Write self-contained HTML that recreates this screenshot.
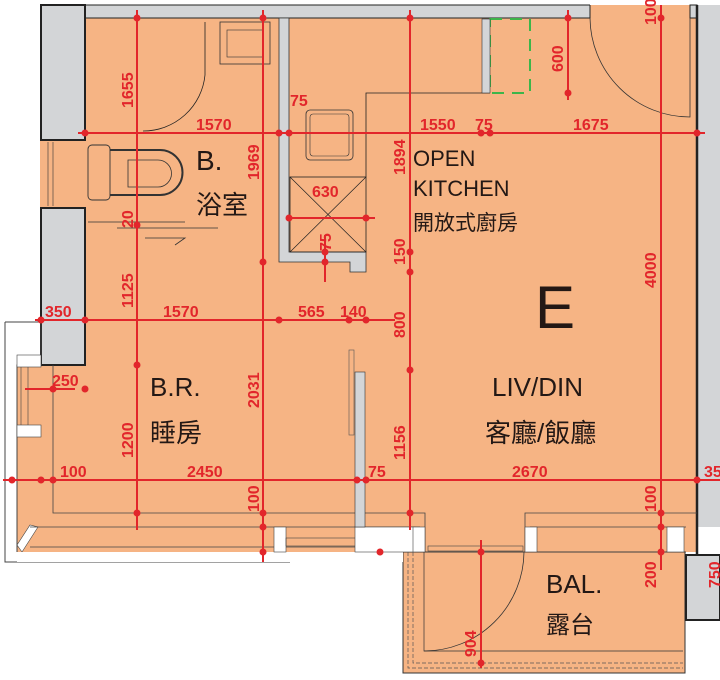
<!DOCTYPE html>
<html><head><meta charset="utf-8"><style>
html,body{margin:0;padding:0;background:#fff;}
svg{display:block}
.d{fill:#E2262B;font-family:"Liberation Sans",sans-serif;font-size:16px;font-weight:bold}
.t{fill:#231815;font-family:"Liberation Sans","Noto Sans CJK TC",sans-serif}
</style></head><body>
<svg width="720" height="680" viewBox="0 0 720 680" xmlns="http://www.w3.org/2000/svg">
<rect width="720" height="680" fill="#fff"/>
<path d="M85,5 H697 V552 H17 V365 H85 Z" fill="#F6B484"/>
<rect x="403" y="552" width="282" height="121" fill="#F6B484" stroke="#333" stroke-width="1"/>
<rect x="40" y="140" width="45" height="68" fill="#F6B484"/>
<line x1="48" y1="142" x2="48" y2="206" stroke="#333" stroke-width="0.6"/>
<line x1="53" y1="142" x2="53" y2="206" stroke="#333" stroke-width="0.6"/>
<rect x="85" y="5" width="505" height="13" fill="#D3D5D7" stroke="#222" stroke-width="1"/>
<rect x="590" y="0" width="110" height="5" fill="#fff"/>
<rect x="690" y="5" width="7" height="13" fill="#D3D5D7" stroke="#222" stroke-width="1"/>
<rect x="41" y="5" width="44" height="135" fill="#D3D5D7" stroke="#222" stroke-width="2"/>
<rect x="41" y="208" width="44" height="157" fill="#D3D5D7" stroke="#222" stroke-width="2"/>
<rect x="697" y="5" width="23" height="522" fill="#D3D5D7"/>
<line x1="697" y1="5" x2="697" y2="555" stroke="#222" stroke-width="2.5"/>
<rect x="686" y="555" width="34" height="65" fill="#D3D5D7" stroke="#222" stroke-width="2"/>
<path d="M5,322 H41 V365 H17 V552 M5,322 V562 H290" fill="none" stroke="#444" stroke-width="1"/>
<rect x="17" y="425" width="24" height="12" fill="#fff" stroke="#444" stroke-width="0.6"/>
<rect x="17" y="355" width="24" height="12" fill="#fff" stroke="#444" stroke-width="0.6"/>
<line x1="21" y1="367" x2="21" y2="425" stroke="#444" stroke-width="0.6"/>
<line x1="28" y1="367" x2="28" y2="425" stroke="#444" stroke-width="0.6"/>
<polygon points="17,545 30,525 38,527 22,552" fill="#fff" stroke="#444" stroke-width="0.6"/>
<rect x="17" y="552" width="386" height="10" fill="#fff"/>
<path d="M53,365 V513 H425 V552 M30,527 H420 M30,547 H403" fill="none" stroke="#444" stroke-width="0.8"/>
<path d="M697,513 H525 V552 M530,527 H686 M403,552 H686" fill="none" stroke="#444" stroke-width="0.8"/>
<rect x="274" y="527" width="12" height="25" fill="#fff" stroke="#444" stroke-width="0.6"/>
<rect x="286" y="538" width="70" height="8" fill="none" stroke="#444" stroke-width="0.6"/>
<rect x="355" y="527" width="60" height="25" fill="#fff" stroke="#444" stroke-width="0.6"/>
<rect x="413" y="527" width="12" height="25" fill="#fff" stroke="#444" stroke-width="0.6"/>
<rect x="525" y="527" width="12" height="25" fill="#fff" stroke="#444" stroke-width="0.6"/>
<rect x="667" y="527" width="17" height="25" fill="#fff" stroke="#444" stroke-width="0.6"/>
<rect x="428" y="546" width="95" height="5" fill="none" stroke="#444" stroke-width="0.6"/>
<path d="M413,552 V663 H683 M408,552 V668 H683" fill="none" stroke="#555" stroke-width="0.7" stroke-dasharray="4,2"/>
<path d="M424,552 V651 H683" fill="none" stroke="#333" stroke-width="0.7"/>
<path d="M424,651 A100,100 0 0 0 524,552" fill="none" stroke="#333" stroke-width="0.8"/>
<path d="M279,18 H289 V252 H366 V272 H350 V262 H279 Z" fill="#D3D5D7" stroke="#333" stroke-width="0.8"/>
<rect x="290" y="177" width="76" height="75" fill="none" stroke="#222" stroke-width="0.8"/>
<path d="M290,177 L366,252 M366,177 L290,252" stroke="#222" stroke-width="0.7"/>
<path d="M366,177 V93 H490" fill="none" stroke="#222" stroke-width="0.8"/>
<rect x="306" y="110" width="47" height="50" rx="4" fill="none" stroke="#333" stroke-width="0.8"/>
<rect x="310" y="114" width="39" height="42" rx="3" fill="none" stroke="#333" stroke-width="0.6"/>
<rect x="220" y="22" width="50" height="42" fill="none" stroke="#333" stroke-width="0.8"/>
<rect x="227" y="30" width="36" height="27" fill="none" stroke="#333" stroke-width="0.6"/>
<path d="M205,22 V75 A62,62 0 0 1 143,131" fill="none" stroke="#222" stroke-width="0.8"/>
<rect x="88" y="145" width="22" height="55" rx="4" fill="none" stroke="#333" stroke-width="0.9"/>
<path d="M110,150 H160 A22,22 0 0 1 160,195 H110" fill="none" stroke="#333" stroke-width="2"/>
<path d="M128,160 H158 A12,12 0 0 1 158,187 H128 Z" fill="none" stroke="#333" stroke-width="0.8"/>
<path d="M88,222 H185 M117,228 H218 M145,238 H185 L175,245" fill="none" stroke="#333" stroke-width="0.8"/>
<rect x="490" y="19" width="40" height="74" fill="none" stroke="#3DB54A" stroke-width="2" stroke-dasharray="12,8"/>
<rect x="482" y="19" width="8" height="74" fill="#D3D5D7" stroke="#333" stroke-width="0.6"/>
<path d="M590,18 A100,100 0 0 0 690,117 V18" fill="none" stroke="#333" stroke-width="0.8"/>
<rect x="355" y="372" width="10" height="155" fill="#D3D5D7" stroke="#333" stroke-width="0.6"/>
<rect x="349" y="350" width="5" height="85" fill="none" stroke="#555" stroke-width="0.6"/>
<g stroke="#E2262B" stroke-width="2" fill="none">
<line x1="78" y1="133" x2="705" y2="133"/>
<line x1="35" y1="320" x2="395" y2="320"/>
<line x1="3" y1="480" x2="720" y2="480"/>
<line x1="137" y1="10" x2="137" y2="530"/>
<line x1="263" y1="10" x2="263" y2="562"/>
<line x1="410" y1="10" x2="410" y2="530"/>
<line x1="568" y1="10" x2="568" y2="100"/>
<line x1="661" y1="5" x2="661" y2="570"/>
<line x1="481" y1="540" x2="481" y2="668"/>
<line x1="288" y1="218" x2="375" y2="218"/>
<line x1="325" y1="235" x2="325" y2="282"/>
<line x1="25" y1="389" x2="75" y2="389"/>
</g>
<g fill="#E2262B">
<circle cx="137" cy="18" r="3.5"/><circle cx="263" cy="18" r="3.5"/><circle cx="410" cy="18" r="3.5"/><circle cx="568" cy="18" r="3.5"/><circle cx="661" cy="18" r="3.5"/>
<circle cx="85" cy="133" r="3.5"/><circle cx="279" cy="133" r="3.5"/><circle cx="289" cy="133" r="3.5"/><circle cx="481" cy="133" r="3.5"/><circle cx="490" cy="133" r="3.5"/><circle cx="697" cy="133" r="3.5"/>
<circle cx="568" cy="93" r="3.5"/><circle cx="137" cy="225" r="3.5"/><circle cx="263" cy="262" r="3.5"/>
<circle cx="289" cy="218" r="3.5"/><circle cx="366" cy="218" r="3.5"/><circle cx="325" cy="252" r="3.5"/><circle cx="325" cy="262" r="3.5"/>
<circle cx="410" cy="252" r="3.5"/><circle cx="410" cy="272" r="3.5"/><circle cx="410" cy="370" r="3.5"/>
<circle cx="41" cy="320" r="3.5"/><circle cx="85" cy="320" r="3.5"/><circle cx="279" cy="320" r="3.5"/><circle cx="349" cy="320" r="3.5"/><circle cx="366" cy="320" r="3.5"/>
<circle cx="137" cy="365" r="3.5"/><circle cx="53" cy="389" r="3.5"/><circle cx="85" cy="389" r="3.5"/>
<circle cx="12" cy="480" r="3.5"/><circle cx="41" cy="480" r="3.5"/><circle cx="53" cy="480" r="3.5"/><circle cx="357" cy="480" r="3.5"/><circle cx="366" cy="480" r="3.5"/><circle cx="697" cy="480" r="3.5"/>
<circle cx="137" cy="513" r="3.5"/><circle cx="263" cy="513" r="3.5"/><circle cx="263" cy="527" r="3.5"/><circle cx="263" cy="552" r="3.5"/><circle cx="410" cy="513" r="3.5"/><circle cx="380" cy="552" r="3.5"/>
<circle cx="661" cy="513" r="3.5"/><circle cx="661" cy="527" r="3.5"/><circle cx="661" cy="552" r="3.5"/><circle cx="481" cy="552" r="3.5"/><circle cx="481" cy="663" r="3.5"/>
</g>
<g class="d">
<text x="196" y="130">1570</text><text x="420" y="130">1550</text><text x="475" y="130">75</text><text x="573" y="130">1675</text>
<text x="290" y="106">75</text><text x="312" y="197">630</text>
<text x="45" y="317">350</text><text x="163" y="317">1570</text><text x="298" y="317">565</text><text x="340" y="317">140</text>
<text x="52" y="386">250</text><text x="60" y="477">100</text><text x="187" y="477">2450</text><text x="368" y="477">75</text><text x="512" y="477">2670</text><text x="704" y="477">35</text>
<text transform="translate(133,108) rotate(-90)">1655</text>
<text transform="translate(259,180) rotate(-90)">1969</text>
<text transform="translate(133,228) rotate(-90)">20</text>
<text transform="translate(133,308) rotate(-90)">1125</text>
<text transform="translate(405,175) rotate(-90)">1894</text>
<text transform="translate(405,265) rotate(-90)">150</text>
<text transform="translate(405,338) rotate(-90)">800</text>
<text transform="translate(405,460) rotate(-90)">1156</text>
<text transform="translate(133,458) rotate(-90)">1200</text>
<text transform="translate(259,408) rotate(-90)">2031</text>
<text transform="translate(259,512) rotate(-90)">100</text>
<text transform="translate(563,72) rotate(-90)">600</text>
<text transform="translate(656,288) rotate(-90)">4000</text>
<text transform="translate(656,25) rotate(-90)">100</text>
<text transform="translate(656,512) rotate(-90)">100</text>
<text transform="translate(656,588) rotate(-90)">200</text>
<text transform="translate(476,657) rotate(-90)">904</text>
<text transform="translate(331,251) rotate(-90)">75</text>
<text transform="translate(720,588) rotate(-90)">750</text>
</g>
<g class="t">
<text x="196" y="170" font-size="28">B.</text>
<text x="196" y="214" font-size="26">浴室</text>
<text x="413" y="166" font-size="22">OPEN</text>
<text x="413" y="196" font-size="22">KITCHEN</text>
<text x="413" y="230" font-size="21">開放式廚房</text>
<text x="535" y="328" font-size="60">E</text>
<text x="150" y="396" font-size="26">B.R.</text>
<text x="150" y="442" font-size="26">睡房</text>
<text x="492" y="396" font-size="26">LIV/DIN</text>
<text x="485" y="442" font-size="26">客廳/飯廳</text>
<text x="546" y="593" font-size="26">BAL.</text>
<text x="546" y="633" font-size="24">露台</text>
</g>
</svg>
</body></html>
